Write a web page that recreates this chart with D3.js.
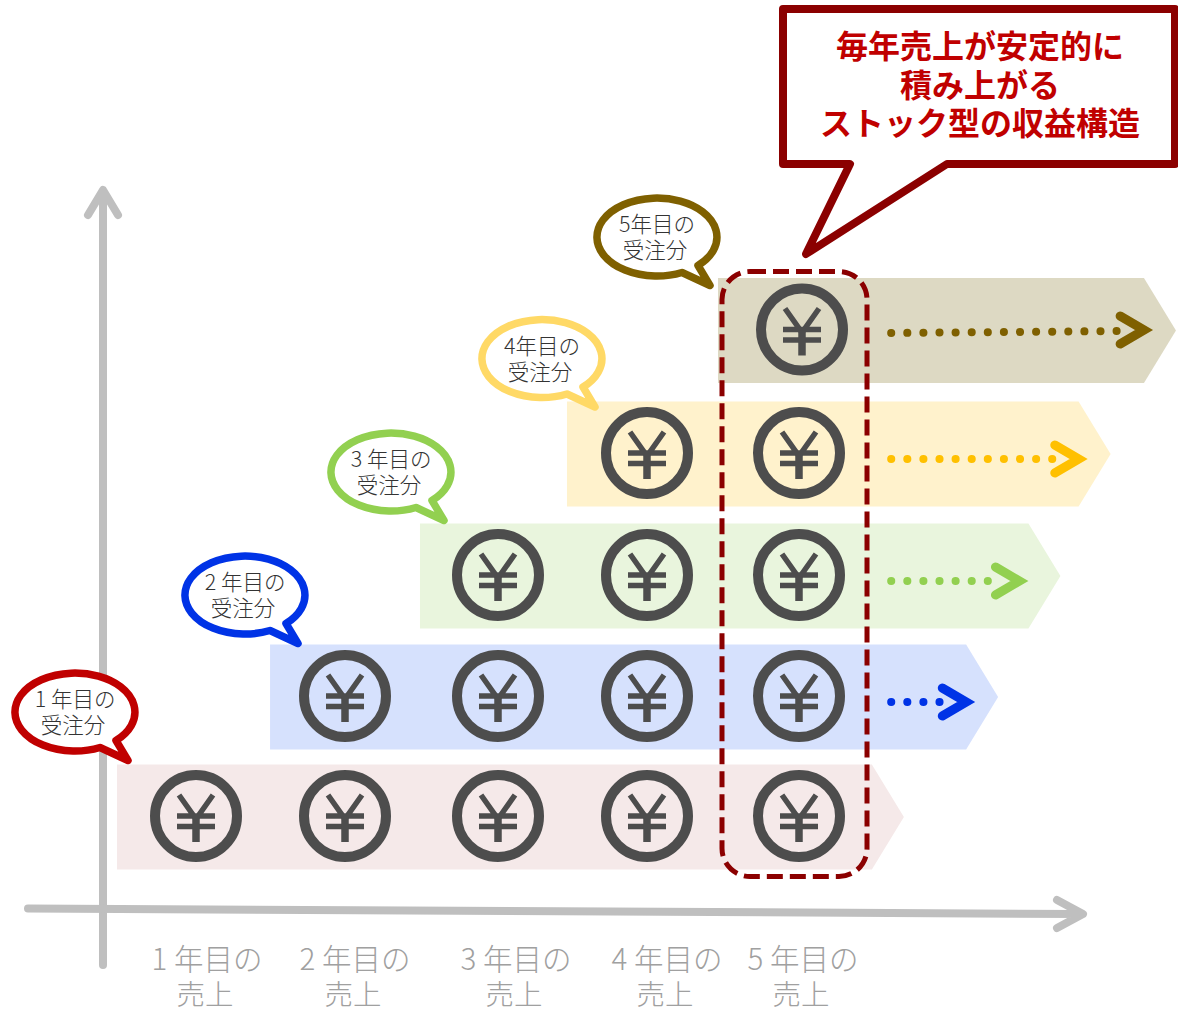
<!DOCTYPE html>
<html lang="ja">
<head>
<meta charset="utf-8">
<script src="https://cdn.jsdelivr.net/npm/d3@7"></script>
<style>
  html, body { margin: 0; padding: 0; background: #fff; }
  svg { display: block; }
  text { font-family: "Noto Sans CJK JP", "Noto Sans", sans-serif; font-weight: 300; }
</style>
</head>
<body>
<div id="container1"></div>
<script>
// data (x values in units of "sales year")
const salesYears = [1, 2, 3, 4, 5];
const orderYears = [1, 2, 3, 4, 5];
const salesLabels = ['1 年目の', '2 年目の', '3 年目の', '4 年目の', '5 年目の'];
const salesLabels2 = ['売上', '売上', '売上', '売上', '売上'];
const orderLabels = ['1 年目の', '2 年目の', '3 年目の', '4年目の', '5年目の'];
const orderLabels2 = ['受注分', '受注分', '受注分', '受注分', '受注分'];
const bandStart = [0.47, 1.497, 2.49, 3.463, 4.467];
const bandEnd = [5.69, 6.31, 6.72, 7.05, 7.48];
const flowStart = [null, 5.58, 5.58, 5.58, 5.58];
const flowEnd = [null, 6.14, 6.49, 6.88, 7.31];
const calloutLines = ['毎年売上が安定的に', '積み上がる', 'ストック型の収益構造'];

const bandColors = ['#F5E9E9', '#D6E1FD', '#E9F5DD', '#FFF2CC', '#DDD9C3'];
const bubbleColors = ['#C00000', '#0033E6', '#92D050', '#FFD966', '#7F6000'];
const flowColors = ['#C00000', '#0033E6', '#92D050', '#FFC000', '#7F6000'];

const maxWidth = 1178;
const maxHeight = 1010;
const bandHeight = 105;
const grey = '#BFBFBF';
const darkRed = '#8B0000';

let x = d3.scaleLinear().domain(salesYears).range([196, 345, 498, 647, 799]);
let y = d3.scaleOrdinal().domain(orderYears).range([817, 697, 576, 454, 330.5]);
let coinShift = d3.scaleOrdinal().domain(orderYears).range([0, 0, 0, 0, 3]);
let flowY = d3.scaleOrdinal().domain(orderYears).range([0, 702, 581, 459, 331]);
let bubbleX = d3.scaleOrdinal().domain(orderYears).range([73, 243, 389, 540, 655]);
let bubbleY = d3.scaleOrdinal().domain(orderYears).range([713.5, 596.5, 473.5, 360, 238.5]);
let labelX = d3.scaleOrdinal().domain(salesYears).range([207, 355, 516, 667, 803]);

let svg = d3.select('div#container1')
    .append('svg')
    .attr('width', maxWidth)
    .attr('height', maxHeight)
    .style('background-color', 'white');

/// AXES ///
let axes = svg.append('g')
    .attr('fill', 'none')
    .attr('stroke', grey)
    .attr('stroke-width', 8)
    .attr('stroke-linecap', 'round')
    .attr('stroke-linejoin', 'round');
axes.append('path').attr('d', 'M103,965 L103,192 M88,215 L103,190 L118,215');
axes.append('path').attr('d', 'M28,908.5 L1080,914 M1057,900 L1083,914 L1057,928');

/// SALES LABELS ///
let ticks = svg.append('g').attr('fill', '#A0A0A0').attr('text-anchor', 'middle');
ticks.selectAll('.line1').data(salesYears).enter().append('text')
    .classed('line1', true)
    .attr('x', d => labelX(d))
    .attr('y', 970)
    .attr('font-size', 29.5)
    .text((d, i) => salesLabels[i]);
ticks.selectAll('.line2').data(salesYears).enter().append('text')
    .classed('line2', true)
    .attr('x', d => labelX(d) - 2)
    .attr('y', 1005)
    .attr('font-size', 28.5)
    .text((d, i) => salesLabels2[i]);

/// BANDS ///
svg.append('g').selectAll('path').data(orderYears).enter().append('path')
    .attr('fill', (d, i) => bandColors[i])
    .attr('d', (d, i) => {
        const top = y(d) - bandHeight / 2, bot = y(d) + bandHeight / 2;
        const x0 = x(bandStart[i]), x1 = x(bandEnd[i]);
        return `M${x0},${top} L${x1 - 32},${top} L${x1},${y(d)} L${x1 - 32},${bot} L${x0},${bot} Z`;
    });

/// COINS ///
let coinData = [];
orderYears.forEach(o => {
    salesYears.filter(s => s >= o).forEach(s => coinData.push({order: o, sales: s}));
});
let coins = svg.append('g').selectAll('g').data(coinData).enter().append('g')
    .attr('transform', d => `translate(${x(d.sales) + coinShift(d.order)},${y(d.order) - 1})`);
coins.append('circle')
    .attr('r', 41)
    .attr('fill', 'none')
    .attr('stroke', '#4D4D4D')
    .attr('stroke-width', 10);
coins.append('path')
    .attr('fill', 'none')
    .attr('stroke', '#4D4D4D')
    .attr('stroke-width', 5.5)
    .attr('d', 'M-17,-21 L0,3 L17,-21 M-19,0 H19 M-19,10.5 H19');
coins.append('path')
    .attr('fill', 'none')
    .attr('stroke', '#4D4D4D')
    .attr('stroke-width', 7.5)
    .attr('d', 'M0,1 V26');

/// FLOW ARROWS ///
let flows = svg.append('g').selectAll('g').data(orderYears.slice(1)).enter().append('g')
    .attr('fill', 'none')
    .attr('stroke', (d, i) => flowColors[i + 1])
    .attr('stroke-linecap', 'round')
    .attr('stroke-linejoin', 'miter');
flows.append('line')
    .attr('x1', (d, i) => x(flowStart[i + 1]) + 4)
    .attr('x2', (d, i) => x(flowEnd[i + 1]) - 24)
    .attr('y1', d => flowY(d) + (d === 5 ? 2 : 0))
    .attr('y2', d => flowY(d))
    .attr('stroke-width', 8)
    .attr('stroke-dasharray', '0.1 16');
flows.append('path')
    .attr('stroke-width', 9)
    .attr('d', (d, i) => {
        const tip = x(flowEnd[i + 1]) - 6, h = flowY(d) - (d === 5 ? 1 : 0);
        return `M${tip - 24},${h - 14} L${tip},${h} L${tip - 24},${h + 14}`;
    });

/// ORDER BUBBLES ///
let bubbles = svg.append('g').selectAll('g').data(orderYears).enter().append('g')
    .attr('transform', d => `translate(${bubbleX(d)},${bubbleY(d)})`);
bubbles.append('path')
    .attr('d', 'M43,27 L55,47 L27,34 A60,39 0 1 1 43,27 Z')
    .attr('fill', 'white')
    .attr('stroke', (d, i) => bubbleColors[i])
    .attr('stroke-width', 7.5)
    .attr('stroke-linejoin', 'round');
bubbles.append('text')
    .attr('text-anchor', 'middle')
    .attr('font-size', 21.5)
    .attr('fill', '#333333')
    .attr('x', 2)
    .attr('y', -6.5)
    .text((d, i) => orderLabels[i]);
bubbles.append('text')
    .attr('text-anchor', 'middle')
    .attr('font-size', 21.5)
    .attr('fill', '#333333')
    .attr('y', 19.5)
    .text((d, i) => orderLabels2[i]);

/// FIFTH YEAR FRAME ///
svg.append('rect')
    .attr('x', 722)
    .attr('y', 271.5)
    .attr('width', 145)
    .attr('height', 605)
    .attr('rx', 28)
    .attr('fill', 'none')
    .attr('stroke', darkRed)
    .attr('stroke-width', 5)
    .attr('stroke-dasharray', '16 7');

/// CALLOUT ///
svg.append('path')
    .attr('d', 'M783,9 H1175 V164 H947 L806,254 L850,164 H783 Z')
    .attr('fill', 'white')
    .attr('stroke', darkRed)
    .attr('stroke-width', 8)
    .attr('stroke-linejoin', 'round');
svg.append('g').selectAll('text').data(calloutLines).enter().append('text')
    .attr('x', 980)
    .attr('y', (d, i) => 58 + i * 38.5)
    .attr('text-anchor', 'middle')
    .attr('font-size', 32)
    .attr('fill', '#C00000')
    .style('font-weight', 700)
    .text(d => d);
</script>
</body>
</html>
